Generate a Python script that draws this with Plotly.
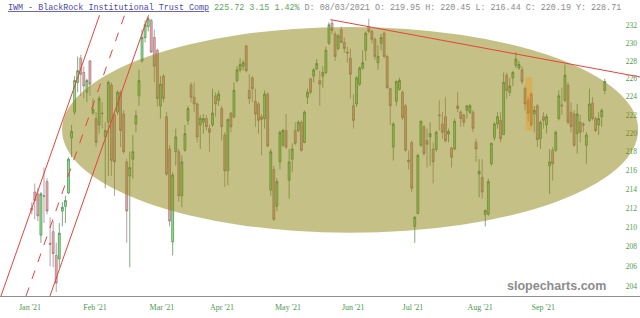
import numpy as np
import plotly.graph_objects as go

# ---- OHLC data (daily candles) ----
open_ = [
    212.0, 213.7, 213.5, 209.2, 213.3, 214.8, 208.35, 209.55, 207.1, 206.75,
    211.7, 212.2, 213.6, 219.5, 222.3, 225.6, 228.3, 226.7, 224.5, 228.0,
    222.2, 221.6, 220.9, 222.2, 219.6, 221.2, 225.3, 222.0, 222.3, 224.5,
    222.1, 216.9, 215.4, 217.2, 221.0, 224.1, 228.0, 230.65, 231.9, 232.6,
    230.65, 229.2, 223.0, 226.3, 221.8, 218.3, 208.5, 218.0, 218.0, 213.3,
    218.15, 221.4, 225.3, 223.95, 223.2, 220.9, 221.2, 221.6, 220.5, 220.9,
    224.1, 223.6, 222.7, 219.8, 215.95, 222.2, 221.8, 225.8, 227.0, 227.4,
    229.7, 224.7, 226.1, 223.5, 223.2, 221.8, 221.6, 224.3, 213.9, 216.1,
    212.2, 216.9, 218.7, 220.3, 214.95, 217.2, 220.3, 220.3, 221.2, 219.0,
    223.95, 226.0, 226.3, 227.1, 225.8, 226.3, 226.7, 230.0, 232.3, 231.05,
    229.4, 231.55, 230.1, 229.0, 228.3, 223.0, 223.2, 225.4, 227.2, 229.2,
    231.9, 231.35, 230.45, 227.8, 230.0, 231.15, 228.5, 224.9, 218.5, 223.5,
    224.8, 224.5, 223.0, 217.1, 219.0, 210.1, 211.45, 218.7, 220.7, 219.2,
    219.6, 218.3, 218.25, 222.0, 221.0, 221.8, 219.9, 218.4, 218.3, 223.0,
    222.3, 222.0, 222.5, 222.3, 222.3, 219.0, 215.6, 215.25, 211.35, 211.4,
    216.7, 219.5, 221.0, 221.4, 219.85, 226.4, 224.5, 226.1, 227.5, 227.2,
    227.0, 224.9, 223.6, 224.3, 222.1, 223.0, 219.4, 221.8, 220.9, 216.5,
    218.15, 218.15, 221.6, 223.1, 223.6, 225.3, 222.3, 222.1, 219.95, 221.2,
    221.0, 218.7, 221.4, 223.3, 221.6, 220.9, 221.8, 224.7,
]
high = [
    212.6, 214.6, 214.1, 213.7, 216.3, 215.15, 211.05, 210.65, 208.4, 210.45,
    212.65, 213.3, 217.4, 220.9, 226.3, 228.5, 228.7, 227.4, 226.0, 228.1,
    223.8, 222.3, 224.1, 223.4, 221.2, 225.8, 225.6, 222.3, 224.7, 224.7,
    222.5, 217.2, 218.0, 219.8, 222.5, 227.0, 231.55, 232.6, 233.0, 232.8,
    231.55, 229.4, 226.3, 226.5, 222.3, 218.7, 215.8, 220.5, 218.3, 217.6,
    220.9, 223.0, 225.6, 225.6, 223.4, 222.0, 222.1, 222.0, 220.9, 224.9,
    224.5, 224.7, 223.0, 220.1, 221.6, 222.3, 225.6, 227.4, 228.3, 228.1,
    229.8, 226.5, 226.3, 224.9, 223.4, 222.1, 224.7, 224.5, 218.3, 216.5,
    215.15, 220.3, 220.5, 222.1, 218.3, 218.9, 221.2, 221.4, 221.4, 222.5,
    224.9, 226.1, 227.2, 228.2, 226.9, 227.4, 229.6, 232.4, 232.7, 231.35,
    231.05, 231.9, 230.65, 229.6, 229.4, 224.3, 226.3, 227.4, 229.2, 231.35,
    232.8, 231.55, 230.65, 229.8, 231.05, 231.35, 228.7, 225.0, 221.2, 225.8,
    226.1, 224.7, 223.2, 218.15, 219.2, 211.2, 217.8, 221.4, 220.9, 220.5,
    221.2, 219.0, 220.3, 223.6, 222.3, 223.95, 220.5, 218.5, 221.6, 224.5,
    222.5, 222.1, 223.1, 223.2, 222.5, 219.4, 217.2, 217.2, 211.9, 215.15,
    219.0, 221.2, 222.3, 222.3, 226.7, 226.7, 226.1, 226.9, 229.0, 228.0,
    227.4, 225.2, 224.0, 224.5, 223.0, 223.2, 221.4, 222.3, 222.1, 218.3,
    218.5, 220.3, 224.7, 225.0, 227.6, 225.6, 223.4, 222.5, 223.2, 222.0,
    221.2, 220.1, 224.9, 223.95, 221.8, 222.3, 222.7, 226.0,
]
low = [
    211.35, 210.85, 210.65, 208.4, 210.45, 211.35, 206.0, 205.9, 203.4, 205.9,
    210.1, 210.45, 213.5, 217.4, 222.0, 224.5, 224.1, 223.8, 223.4, 224.1,
    222.0, 218.5, 219.95, 220.5, 214.1, 215.4, 215.4, 213.3, 222.0, 218.5,
    217.8, 208.4, 205.9, 215.1, 220.1, 223.0, 227.8, 230.1, 231.35, 228.9,
    225.6, 222.9, 221.6, 223.4, 215.4, 210.1, 207.1, 216.5, 212.65, 212.1,
    218.0, 220.9, 223.4, 222.3, 219.0, 218.3, 219.95, 220.3, 218.0, 220.7,
    221.8, 223.0, 219.2, 214.25, 214.4, 220.1, 221.6, 225.6, 226.7, 226.9,
    226.7, 223.2, 223.4, 220.7, 219.95, 217.6, 220.5, 218.5, 213.3, 210.65,
    211.7, 216.1, 218.5, 218.3, 213.0, 215.8, 218.7, 220.1, 218.0, 218.9,
    223.2, 224.3, 225.6, 227.0, 223.0, 225.0, 226.5, 229.8, 231.05, 228.0,
    229.2, 230.0, 228.9, 227.8, 223.8, 220.5, 222.9, 225.2, 227.0, 228.0,
    231.15, 230.0, 228.1, 227.0, 229.2, 228.3, 224.9, 220.9, 217.05, 223.0,
    224.7, 221.4, 218.0, 216.1, 213.7, 208.4, 211.35, 218.5, 217.6, 216.3,
    216.5, 214.6, 218.0, 220.3, 219.4, 219.0, 219.0, 216.3, 218.15, 222.3,
    220.7, 220.7, 221.6, 222.1, 220.1, 216.9, 213.15, 213.0, 210.1, 211.2,
    216.5, 219.2, 220.5, 219.0, 219.8, 223.8, 224.1, 225.2, 227.2, 227.0,
    225.4, 222.5, 221.3, 220.7, 220.1, 218.5, 218.3, 220.5, 219.95, 213.5,
    214.9, 218.0, 221.4, 222.0, 223.4, 221.0, 220.1, 218.5, 217.8, 219.0,
    220.1, 216.7, 221.2, 221.4, 220.1, 219.8, 220.7, 224.3,
]
close = [
    211.8, 212.8, 211.2, 213.5, 213.25, 211.7, 208.25, 207.3, 204.3, 209.4,
    212.1, 212.8, 217.2, 220.2, 225.8, 226.9, 226.5, 225.2, 225.8, 225.4,
    222.6, 219.0, 223.8, 222.15, 220.3, 225.6, 217.05, 216.9, 224.5, 220.3,
    218.0, 211.7, 216.3, 218.0, 221.9, 225.8, 230.65, 232.1, 232.8, 229.0,
    227.4, 223.8, 225.4, 223.8, 215.6, 210.65, 215.5, 219.6, 213.3, 216.9,
    219.95, 222.7, 223.95, 223.2, 219.6, 221.6, 221.6, 220.7, 220.1, 222.2,
    223.2, 224.3, 220.7, 215.95, 221.5, 220.7, 224.7, 227.0, 227.6, 227.8,
    226.9, 223.8, 224.9, 222.1, 221.4, 221.5, 224.3, 218.6, 218.0, 210.85,
    214.8, 220.1, 220.3, 218.5, 216.9, 218.3, 218.9, 221.2, 218.15, 222.3,
    224.5, 224.5, 227.0, 227.7, 225.4, 226.7, 229.2, 232.1, 231.45, 228.5,
    230.85, 230.1, 229.4, 228.9, 226.5, 221.4, 226.1, 227.2, 227.8, 231.15,
    231.35, 230.45, 228.5, 228.5, 230.65, 228.5, 225.0, 223.0, 221.0, 225.7,
    225.8, 221.7, 218.15, 216.9, 214.1, 211.05, 217.6, 221.3, 217.8, 218.8,
    219.95, 216.9, 220.1, 221.9, 220.1, 219.2, 220.2, 217.4, 221.3, 222.7,
    221.6, 221.2, 223.0, 223.0, 220.5, 218.3, 215.9, 213.7, 211.75, 214.8,
    218.9, 221.0, 221.8, 219.4, 225.6, 224.7, 225.2, 226.7, 228.2, 227.6,
    225.7, 223.2, 222.2, 220.9, 222.5, 219.3, 221.2, 221.4, 221.8, 216.9,
    216.7, 220.1, 224.1, 223.0, 226.4, 221.2, 220.7, 218.7, 222.1, 220.1,
    220.9, 219.8, 223.2, 221.6, 220.3, 221.6, 222.5, 225.7,
]
x_idx = list(range(len(close)))

month_labels = ["Jan '21", "Feb '21", "Mar '21", "Apr '21", "May '21",
                "Jun '21", "Jul '21", "Aug '21", "Sep '21"]
month_pos = [-0.55, 20.66, 42.5, 62.1, 83.65, 104.9, 124.4, 146.3, 166.9]
price_ticks = [204, 206, 208, 210, 212, 214, 216, 218, 220, 222, 224, 226, 228, 230, 232]

# drawings (index, price)
ellipse_x = [9.9, 197.9]
ellipse_price = [209.44, 231.86]
highlight_x = [161.2, 163.4]
highlight_price = [220.3, 226.2]
channel_bottom_price, channel_top_price = 203.0, 233.2
channel_lines = [  # (x at bottom, x at top, dash)
    (-10.02, 22.13, "solid"),
    (-1.86, 30.29, "dash"),
    (5.97, 38.12, "solid"),
]
trend_start = (97.5, 232.7)
trend_end = (198.5, 226.2)

fig = go.Figure(go.Candlestick(
    x=x_idx, open=open_, high=high, low=low, close=close,
    increasing=dict(fillcolor="#90e890", line=dict(color="#4a824a", width=0.7)),
    decreasing=dict(fillcolor="#f0a6ac", line=dict(color="#967878", width=0.7)),
    whiskerwidth=0, showlegend=False, hoverinfo="skip",
))

shapes = [
    dict(type="circle", xref="x", yref="y", x0=ellipse_x[0], x1=ellipse_x[1],
         y0=ellipse_price[0], y1=ellipse_price[1],
         fillcolor="rgba(140,130,12,0.5)", line=dict(width=0), layer="above"),
    dict(type="rect", xref="x", yref="y", x0=highlight_x[0], x1=highlight_x[1],
         y0=highlight_price[0], y1=highlight_price[1],
         fillcolor="rgba(255,140,0,0.3)", line=dict(width=0), layer="above"),
]
for xb, xt, dash in channel_lines:
    shapes.append(dict(type="line", xref="x", yref="y", x0=xb, x1=xt,
                       y0=channel_bottom_price, y1=channel_top_price,
                       line=dict(color="#e8433c", width=1, dash=dash), layer="above"))
shapes.append(dict(type="line", xref="x", yref="y", x0=trend_start[0], x1=trend_end[0],
                   y0=trend_start[1], y1=trend_end[1],
                   line=dict(color="#e8433c", width=1), layer="above"))

title_html = (
    '<span style="color:#4b4ba8;text-decoration:underline">IWM - BlackRock Institutional Trust Comp</span>'
    ' <span style="color:#5aa55a">225.72 3.15 1.42%</span>'
    ' D: 08/03/2021 O: 219.95 H: 220.45 L: 216.44 C: 220.19 Y: 228.71'
)

fig.update_layout(
    width=640, height=318,
    margin=dict(l=0, r=0, t=0, b=22),
    paper_bgcolor="white", plot_bgcolor="white",
    shapes=shapes,
    showlegend=False,
    boxgap=0.1,
    annotations=[
        dict(xref="paper", yref="paper", x=0.009, y=(296 - 8) / 296, xanchor="left",
             yanchor="middle", text=title_html, showarrow=False,
             font=dict(family="Liberation Mono", size=8.4, color="#8a8a8a")),
        dict(xref="paper", yref="paper", x=0.8703, y=0.0338, xanchor="center",
             yanchor="middle", text="<b>slopecharts.com</b>", showarrow=False,
             font=dict(family="Liberation Sans", size=12.5, color="#8c8c8c")),
    ],
    xaxis=dict(
        range=[-10.35, 198.5], tickvals=month_pos, ticktext=month_labels,
        showgrid=False, zeroline=False, showline=True, linecolor="#8f8f8f", linewidth=1,
        ticks="", ticklabelstandoff=3,
        tickfont=dict(family="Liberation Serif", size=8, color="#4c9a4c"),
        rangeslider=dict(visible=False), fixedrange=True,
    ),
    yaxis=dict(
        type="log", range=[2.30749, 2.37101], side="right",
        tickvals=price_ticks, ticktext=[str(v) for v in price_ticks],
        ticklabelposition="inside", showgrid=False, zeroline=False, showline=False,
        ticks="", tickfont=dict(family="Liberation Serif", size=7.5, color="#4c9a4c"),
        fixedrange=True,
    ),
)

fig.write_html("out.html")
